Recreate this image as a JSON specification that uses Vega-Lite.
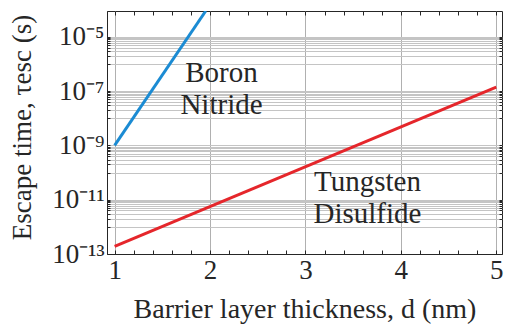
{
  "$schema": "https://vega.github.io/schema/vega-lite/v6.json",
  "width": 395,
  "height": 243,
  "autosize": {"type": "none"},
  "padding": {"left": 107, "top": 11, "right": 4, "bottom": 70},
  "background": "white",
  "config": {
    "font": "Liberation Serif",
    "view": {"stroke": "#262626", "strokeWidth": 1},
    "axis": {
      "labelFont": "Liberation Serif",
      "titleFont": "Liberation Serif",
      "labelColor": "#262626",
      "titleColor": "#262626",
      "labelFontSize": 27,
      "titleFontSize": 28,
      "titleFontWeight": "normal",
      "domainColor": "#262626",
      "tickColor": "#262626",
      "labelOverlap": false
    }
  },
  "resolve": {"axis": {"x": "independent", "y": "independent"}},
  "layer": [
    {
      "data": {
        "values": [
          {"material": "Boron Nitride", "d": 1, "tau": 1e-9},
          {"material": "Boron Nitride", "d": 1.955, "tau": 8.9e-5},
          {"material": "Tungsten Disulfide", "d": 1, "tau": 1.9e-13},
          {"material": "Tungsten Disulfide", "d": 5, "tau": 1.4e-7}
        ]
      },
      "mark": {"type": "line", "strokeWidth": 3, "clip": true},
      "encoding": {
        "x": {
          "field": "d",
          "type": "quantitative",
          "scale": {"domain": [0.92, 5.06], "nice": false, "zero": false},
          "axis": {
            "orient": "bottom",
            "title": "Barrier layer thickness, d (nm)",
            "values": [1, 1.2, 1.4, 1.6, 1.8, 2, 2.2, 2.4, 2.6, 2.8, 3, 3.2, 3.4, 3.6, 3.8, 4, 4.2, 4.4, 4.6, 4.8, 5],
            "labelExpr": "datum.value % 1 == 0 ? format(datum.value, 'd') : ''",
            "grid": true,
            "gridColor": {"condition": {"test": "datum.value % 1 == 0", "value": "#b0b0b0"}, "value": "transparent"},
            "tickSize": -4,
            "labelPadding": 7,
            "titlePadding": 12
          }
        },
        "y": {
          "field": "tau",
          "type": "quantitative",
          "scale": {"type": "log", "domain": [1e-13, 8.9e-5], "nice": false},
          "axis": {
            "orient": "left",
            "title": "Escape time, τesc (s)",
            "titleFontSize": 27,
            "titleX": -71,
            "titleY": 116,
            "values": [1e-13, 1e-12, 2e-12, 3e-12, 4e-12, 5e-12, 6e-12, 7e-12, 8e-12, 9e-12, 1e-11, 1e-10, 2e-10, 3e-10, 4e-10, 5e-10, 6e-10, 7e-10, 8e-10, 9e-10, 1e-9, 1e-8, 2e-8, 3e-8, 4e-8, 5e-8, 6e-8, 7e-8, 8e-8, 9e-8, 1e-7, 1e-6, 2e-6, 3e-6, 4e-6, 5e-6, 6e-6, 7e-6, 8e-6, 9e-6, 1e-5],
            "labelExpr": "datum.value == 1e-5 ? '10⁻⁵' : datum.value == 1e-7 ? '10⁻⁷' : datum.value == 1e-9 ? '10⁻⁹' : datum.value == 1e-11 ? '10⁻¹¹' : datum.value == 1e-13 ? '10⁻¹³' : ''",
            "grid": true,
            "gridColor": "#c4c4c4",
            "tickSize": -3,
            "labelPadding": 6,
            "titlePadding": 8
          }
        },
        "color": {
          "field": "material",
          "type": "nominal",
          "scale": {"domain": ["Boron Nitride", "Tungsten Disulfide"], "range": ["#1b8bd3", "#e5262b"]},
          "legend": null
        }
      }
    },
    {
      "data": {
        "values": [
          {"d": 2.12, "tau": 4.8e-7, "label": "Boron"},
          {"d": 2.12, "tau": 3.2e-8, "label": "Nitride"},
          {"d": 3.65, "tau": 4.5e-11, "label": "Tungsten"},
          {"d": 3.65, "tau": 3.0e-12, "label": "Disulfide"}
        ]
      },
      "mark": {"type": "text", "fontSize": 29, "font": "Liberation Serif", "color": "#262626", "align": "center", "baseline": "middle"},
      "encoding": {
        "x": {
          "field": "d",
          "type": "quantitative",
          "scale": {"domain": [0.92, 5.06], "nice": false, "zero": false},
          "axis": {
            "orient": "top",
            "title": null,
            "values": [1, 1.2, 1.4, 1.6, 1.8, 2, 2.2, 2.4, 2.6, 2.8, 3, 3.2, 3.4, 3.6, 3.8, 4, 4.2, 4.4, 4.6, 4.8, 5],
            "labels": false,
            "grid": false,
            "domain": false,
            "tickSize": -4
          }
        },
        "y": {
          "field": "tau",
          "type": "quantitative",
          "scale": {"type": "log", "domain": [1e-13, 8.9e-5], "nice": false},
          "axis": {
            "orient": "right",
            "title": null,
            "values": [1e-13, 1e-12, 2e-12, 3e-12, 4e-12, 5e-12, 6e-12, 7e-12, 8e-12, 9e-12, 1e-11, 1e-10, 2e-10, 3e-10, 4e-10, 5e-10, 6e-10, 7e-10, 8e-10, 9e-10, 1e-9, 1e-8, 2e-8, 3e-8, 4e-8, 5e-8, 6e-8, 7e-8, 8e-8, 9e-8, 1e-7, 1e-6, 2e-6, 3e-6, 4e-6, 5e-6, 6e-6, 7e-6, 8e-6, 9e-6, 1e-5],
            "labels": false,
            "grid": false,
            "domain": false,
            "tickSize": -3
          }
        },
        "text": {"field": "label", "type": "nominal"}
      }
    }
  ]
}
